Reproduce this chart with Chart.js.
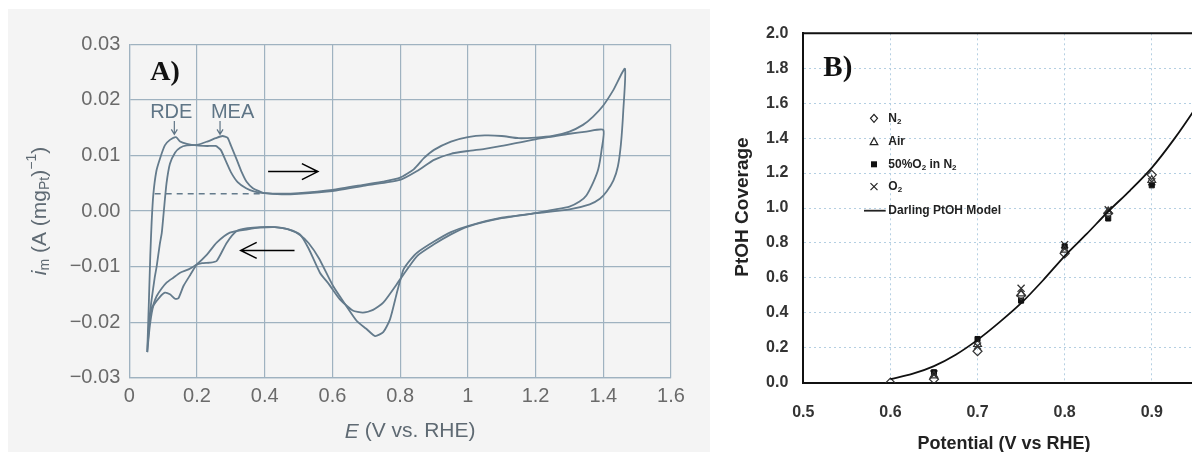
<!DOCTYPE html>
<html>
<head>
<meta charset="utf-8">
<script src="https://cdn.jsdelivr.net/npm/chart.js@4.4.1/dist/chart.umd.min.js"></script>
<style>
  body { margin: 0; width: 1192px; height: 452px; background: #fff; position: relative; overflow: hidden; }
  #panelA { position: absolute; left: 8px; top: 9px; background: #f4f4f4; }
  #wrapB { position: absolute; left: 710px; top: 0; width: 482px; height: 452px; overflow: hidden; background: #fff; }
</style>
</head>
<body>
<canvas id="panelA" width="702" height="443"></canvas>
<div id="wrapB"><canvas id="panelB" width="560" height="452"></canvas></div>
<script>
// ---- panel A: cyclic voltammograms (E vs RHE, mass-specific current) ----
const rdeE = [0.053, 0.058, 0.062, 0.066, 0.071, 0.08, 0.091, 0.105, 0.12, 0.138, 0.15, 0.17, 0.2, 0.23, 0.255, 0.27, 0.285, 0.3, 0.32, 0.345, 0.37, 0.4, 0.45, 0.5, 0.6, 0.7, 0.75, 0.8, 0.84, 0.87, 0.9, 0.95, 1.0, 1.05, 1.1, 1.15, 1.2, 1.25, 1.3, 1.34, 1.37, 1.4, 1.43, 1.464,
  1.459, 1.452, 1.443, 1.43, 1.41, 1.39, 1.36, 1.3, 1.2, 1.1, 1.0, 0.95, 0.9, 0.85, 0.83, 0.81, 0.8, 0.79, 0.77, 0.75, 0.726, 0.7, 0.672, 0.64, 0.602, 0.56, 0.53, 0.504, 0.47, 0.43, 0.386, 0.35, 0.317, 0.288, 0.258, 0.238, 0.215, 0.199, 0.18, 0.16, 0.145, 0.135, 0.12, 0.105, 0.09, 0.071, 0.061, 0.053];
const rdeI = [-0.0254, -0.016, -0.008, -0.002, 0.003, 0.0072, 0.0095, 0.0118, 0.0128, 0.0133, 0.0125, 0.0121, 0.0118, 0.0117, 0.0117, 0.011, 0.009, 0.007, 0.0052, 0.0041, 0.0035, 0.0032, 0.0031, 0.0032, 0.0038, 0.0048, 0.0053, 0.006, 0.0075, 0.0095, 0.011, 0.0125, 0.0133, 0.0136, 0.0135, 0.0131, 0.0132, 0.0135, 0.0143, 0.0155, 0.017, 0.019, 0.0218, 0.0256,
  0.018, 0.012, 0.008, 0.0055, 0.0035, 0.0022, 0.0012, 0.0003, -0.0004, -0.0012, -0.0027, -0.0038, -0.0055, -0.0075, -0.0088, -0.0105, -0.0125, -0.0148, -0.0195, -0.0218, -0.0225, -0.0212, -0.0198, -0.017, -0.0135, -0.0085, -0.0058, -0.0043, -0.0033, -0.0029, -0.0029, -0.0031, -0.0036, -0.0057, -0.009, -0.0093, -0.0094, -0.0097, -0.0115, -0.0135, -0.0157, -0.0158, -0.015, -0.0147, -0.0155, -0.0171, -0.0205, -0.0254];

const meaE = [0.053, 0.06, 0.066, 0.075, 0.081, 0.09, 0.096, 0.102, 0.11, 0.12, 0.135, 0.15, 0.17, 0.2, 0.23, 0.255, 0.275, 0.29, 0.3, 0.317, 0.332, 0.347, 0.365, 0.386, 0.4, 0.45, 0.5, 0.6, 0.7, 0.8, 0.85, 0.9, 0.95, 1.0, 1.05, 1.1, 1.15, 1.2, 1.25, 1.3, 1.35, 1.4,
  1.395, 1.385, 1.37, 1.35, 1.33, 1.3, 1.25, 1.2, 1.1, 1.0, 0.95, 0.9, 0.85, 0.8, 0.75, 0.72, 0.69, 0.66, 0.622, 0.59, 0.563, 0.53, 0.504, 0.47, 0.43, 0.386, 0.35, 0.297, 0.258, 0.23, 0.199, 0.175, 0.15, 0.13, 0.11, 0.095, 0.081, 0.07, 0.061, 0.053];
const meaI = [-0.0254, -0.019, -0.0159, -0.012, -0.0099, -0.006, -0.0039, 0.0, 0.005, 0.0085, 0.0105, 0.0114, 0.0118, 0.0119, 0.0125, 0.0131, 0.0135, 0.0132, 0.0118, 0.0093, 0.007, 0.0052, 0.0041, 0.0035, 0.0032, 0.003, 0.0031, 0.0036, 0.0046, 0.0056, 0.0072, 0.0092, 0.0103, 0.0108, 0.0112, 0.0117, 0.0123, 0.0129, 0.0134, 0.0139, 0.0143, 0.0146,
  0.011, 0.0075, 0.0051, 0.0028, 0.0017, 0.0008, 0.0002, -0.0004, -0.0013, -0.0028, -0.0042, -0.006, -0.0081, -0.0123, -0.0165, -0.0178, -0.0183, -0.0179, -0.0159, -0.0132, -0.0111, -0.0068, -0.0042, -0.0033, -0.0029, -0.003, -0.0033, -0.0039, -0.0057, -0.0078, -0.0096, -0.0105, -0.0111, -0.012, -0.0129, -0.014, -0.0153, -0.017, -0.0189, -0.0254];

// double-layer baseline under the H_upd region
const baselineE = [0.075, 0.39];
const baselineI = [0.0031, 0.0031];

const cvTicksE = [0, 0.2, 0.4, 0.6, 0.8, 1.0, 1.2, 1.4, 1.6];
const cvTickLabelsE = ['0', '0.2', '0.4', '0.6', '0.8', '1', '1.2', '1.4', '1.6'];
const cvTicksI = [-0.03, -0.02, -0.01, 0, 0.01, 0.02, 0.03];
const cvTickLabelsI = ['\u22120.03', '\u22120.02', '\u22120.01', '0.00', '0.01', '0.02', '0.03'];

// ---- panel B: PtOH coverage vs potential ----
const potentials = [0.6, 0.65, 0.7, 0.75, 0.8, 0.85, 0.9];
const coverageN2 = [0.0, 0.02, 0.18, 0.50, 0.74, 0.97, 1.19];
const coverageAir = [null, 0.04, 0.22, 0.51, 0.76, 0.98, 1.16];
const coverage50O2 = [null, 0.06, 0.25, 0.47, 0.78, 0.94, 1.13];
const coverageO2 = [null, 0.05, 0.21, 0.54, 0.79, 0.99, 1.15];
const modelE = [0.6, 0.625, 0.65, 0.675, 0.7, 0.725, 0.75, 0.775, 0.8, 0.825, 0.85, 0.875, 0.9, 0.925, 0.95, 1.0];
const modelCoverage = [0.02, 0.05, 0.095, 0.16, 0.245, 0.345, 0.455, 0.585, 0.725, 0.85, 0.98, 1.1, 1.23, 1.39, 1.57, 1.95];

const ohTicksE = [0.5, 0.6, 0.7, 0.8, 0.9, 1.0];
const ohTickLabelsE = ['0.5', '0.6', '0.7', '0.8', '0.9', '1.0'];
const ohTicksCov = [0, 0.2, 0.4, 0.6, 0.8, 1.0, 1.2, 1.4, 1.6, 1.8, 2.0];
const ohTickLabelsCov = ['0.0', '0.2', '0.4', '0.6', '0.8', '1.0', '1.2', '1.4', '1.6', '1.8', '2.0'];

function toPoints(xs, ys) {
  return xs.map((x, i) => ({ x: x, y: ys[i] })).filter(p => p.y !== null);
}

const SANS = '"Liberation Sans", Arial, Helvetica, sans-serif';
const SERIF = '"Liberation Serif", "Times New Roman", serif';
const gridBlue = '#9fb2c0';
const traceBlue = '#647b8c';

function arrow(ctx, x1, y1, x2, y2, len, half, color, width) {
  const a = Math.atan2(y2 - y1, x2 - x1);
  ctx.save();
  ctx.strokeStyle = color;
  ctx.lineWidth = width;
  ctx.beginPath();
  ctx.moveTo(x1, y1);
  ctx.lineTo(x2, y2);
  ctx.moveTo(x2 - len * Math.cos(a) + half * Math.sin(a), y2 - len * Math.sin(a) - half * Math.cos(a));
  ctx.lineTo(x2, y2);
  ctx.lineTo(x2 - len * Math.cos(a) - half * Math.sin(a), y2 - len * Math.sin(a) + half * Math.cos(a));
  ctx.stroke();
  ctx.restore();
}

// draws a run of [text, font, yShift] pieces starting at x, returns width
function drawRuns(ctx, runs, x, y, measureOnly) {
  let w = 0;
  runs.forEach(([t, f, dy]) => {
    ctx.font = f;
    if (!measureOnly) ctx.fillText(t, x + w, y + dy);
    w += ctx.measureText(t).width;
  });
  return w;
}

const cvExtras = {
  id: 'cvExtras',
  afterDatasetsDraw(chart) {
    const { ctx, scales: { x, y } } = chart;
    // sweep direction arrows
    arrow(ctx, x.getPixelForValue(0.41), y.getPixelForValue(0.0071), x.getPixelForValue(0.557), y.getPixelForValue(0.0071), 16, 8, '#000', 1.5);
    arrow(ctx, x.getPixelForValue(0.488), y.getPixelForValue(-0.0071), x.getPixelForValue(0.329), y.getPixelForValue(-0.0071), 16, 8, '#000', 1.5);

    // RDE / MEA peak markers
    ctx.save();
    ctx.fillStyle = '#5f7586';
    ctx.font = '20px ' + SANS;
    ctx.textAlign = 'center';
    ctx.textBaseline = 'middle';
    ctx.fillText('RDE', x.getPixelForValue(0.124), y.getPixelForValue(0.0178));
    ctx.fillText('MEA', x.getPixelForValue(0.305), y.getPixelForValue(0.0178));
    ctx.restore();
    arrow(ctx, x.getPixelForValue(0.133), y.getPixelForValue(0.0162), x.getPixelForValue(0.133), y.getPixelForValue(0.0138), 5, 3, '#5f7586', 1.2);
    arrow(ctx, x.getPixelForValue(0.268), y.getPixelForValue(0.0162), x.getPixelForValue(0.268), y.getPixelForValue(0.0138), 5, 3, '#5f7586', 1.2);
  },
  afterDraw(chart) {
    const { ctx, chartArea } = chart;
    ctx.save();
    // panel letter
    ctx.fillStyle = '#111';
    ctx.font = 'bold 28px ' + SERIF;
    ctx.textBaseline = 'alphabetic';
    ctx.fillText('A)', chartArea.left + 21, chartArea.top + 36);

    ctx.fillStyle = '#5f6a73';
    ctx.textBaseline = 'middle';
    // x title: E (V vs. RHE)
    const xRuns = [['E', 'italic 21px ' + SANS, 0], [' (V vs. RHE)', '21px ' + SANS, 0]];
    const xw = drawRuns(ctx, xRuns, 0, 0, true);
    drawRuns(ctx, xRuns, (chartArea.left + chartArea.right) / 2 - xw / 2 + 10, chartArea.bottom + 54, false);

    // y title: i_m (A (mg_Pt)^-1)
    const yRuns = [
      ['i', 'italic 21px ' + SANS, 0], ['m', '14px ' + SANS, 5],
      [' (A (mg', '21px ' + SANS, 0], ['Pt', '14px ' + SANS, 5],
      [')', '21px ' + SANS, 0], ['\u22121', '14px ' + SANS, -8], [')', '21px ' + SANS, 0]
    ];
    const yw = drawRuns(ctx, yRuns, 0, 0, true);
    ctx.translate(32, y_center(chart));
    ctx.rotate(-Math.PI / 2);
    drawRuns(ctx, yRuns, -yw / 2, 0, false);
    ctx.restore();
  }
};

function y_center(chart) {
  return chart.scales.y.getPixelForValue(0);
}

new Chart(document.getElementById('panelA'), {
  type: 'scatter',
  data: {
    datasets: [
      { label: 'RDE', data: toPoints(rdeE, rdeI), showLine: true, borderColor: traceBlue, borderWidth: 1.8, pointRadius: 0, tension: 0.2 },
      { label: 'MEA', data: toPoints(meaE, meaI), showLine: true, borderColor: traceBlue, borderWidth: 1.8, pointRadius: 0, tension: 0.2 },
      { label: 'baseline', data: toPoints(baselineE, baselineI), showLine: true, borderColor: traceBlue, borderWidth: 1.6, borderDash: [6, 5], pointRadius: 0 }
    ]
  },
  options: {
    responsive: false,
    animation: false,
    layout: { padding: { top: 35.3, right: 39, left: 0, bottom: 0 } },
    plugins: { legend: { display: false }, tooltip: { enabled: false } },
    scales: {
      x: {
        type: 'linear', min: 0, max: 1.6,
        afterBuildTicks: s => { s.ticks = cvTicksE.map(v => ({ value: v })); },
        afterFit: s => { s.height = 74.3; },
        ticks: { padding: 7, color: '#6a6a6a', font: { family: SANS, size: 20 }, callback: (v, i) => cvTickLabelsE[i] },
        grid: { color: gridBlue, lineWidth: 1.2, drawTicks: false },
        border: { color: gridBlue, width: 1.2 }
      },
      y: {
        type: 'linear', min: -0.03, max: 0.03,
        afterBuildTicks: s => { s.ticks = cvTicksI.map(v => ({ value: v })); },
        afterFit: s => { s.width = 121.3; },
        ticks: { padding: 9, color: '#6a6a6a', font: { family: SANS, size: 20 }, callback: (v, i) => cvTickLabelsI[i] },
        grid: { color: gridBlue, lineWidth: 1.2, drawTicks: false },
        border: { color: gridBlue, width: 1.2 }
      }
    }
  },
  plugins: [cvExtras]
});

// ---- panel B ----
const legendRows = [
  { style: 'diamond', text: [['N', 0], ['2', 1]] },
  { style: 'triangle', text: [['Air', 0]] },
  { style: 'square', text: [['50%O', 0], ['2', 1], [' in N', 0], ['2', 1]] },
  { style: 'cross', text: [['O', 0], ['2', 1]] },
  { style: 'line', text: [['Darling PtOH Model', 0]] }
];

function marker(ctx, style, cx, cy) {
  ctx.save();
  ctx.strokeStyle = '#222';
  ctx.fillStyle = '#111';
  ctx.lineWidth = 1.2;
  ctx.beginPath();
  if (style === 'diamond') {
    ctx.moveTo(cx, cy - 4); ctx.lineTo(cx + 3.5, cy); ctx.lineTo(cx, cy + 4); ctx.lineTo(cx - 3.5, cy); ctx.closePath(); ctx.stroke();
  } else if (style === 'triangle') {
    ctx.moveTo(cx, cy - 4); ctx.lineTo(cx + 3.8, cy + 3); ctx.lineTo(cx - 3.8, cy + 3); ctx.closePath(); ctx.stroke();
  } else if (style === 'square') {
    ctx.fillRect(cx - 3, cy - 3, 6, 6);
  } else if (style === 'cross') {
    ctx.moveTo(cx - 3.5, cy - 3.5); ctx.lineTo(cx + 3.5, cy + 3.5); ctx.moveTo(cx + 3.5, cy - 3.5); ctx.lineTo(cx - 3.5, cy + 3.5); ctx.stroke();
  } else {
    ctx.lineWidth = 1.8;
    ctx.moveTo(cx - 10, cy); ctx.lineTo(cx + 11.7, cy); ctx.stroke();
  }
  ctx.restore();
}

const ohExtras = {
  id: 'ohExtras',
  afterDraw(chart) {
    const { ctx, chartArea } = chart;
    ctx.save();
    // frame: top and right edges
    ctx.strokeStyle = '#111';
    ctx.lineWidth = 2;
    ctx.beginPath();
    ctx.moveTo(chartArea.left, chartArea.top);
    ctx.lineTo(chartArea.right, chartArea.top);
    ctx.lineTo(chartArea.right, chartArea.bottom);
    ctx.stroke();

    // panel letter
    ctx.fillStyle = '#111';
    ctx.font = 'bold 29px ' + SERIF;
    ctx.textBaseline = 'alphabetic';
    ctx.fillText('B)', chartArea.left + 20, chartArea.top + 43);

    // legend
    ctx.textBaseline = 'middle';
    ctx.fillStyle = '#222';
    const rowY = [118.3, 141.7, 164.3, 186.7, 210.7];
    legendRows.forEach((row, k) => {
      const cy = rowY[k];
      marker(ctx, row.style, row.style === 'line' ? 164 : 164, cy);
      let tx = 178.3;
      row.text.forEach(([t, sub]) => {
        ctx.font = sub ? 'bold 8px ' + SANS : 'bold 12px ' + SANS;
        ctx.fillText(t, tx, cy + (sub ? 3 : 0));
        tx += ctx.measureText(t).width;
      });
    });

    // axis titles
    ctx.fillStyle = '#222';
    ctx.textAlign = 'center';
    ctx.font = 'bold 18px ' + SANS;
    ctx.fillText('Potential (V vs RHE)', 294, 444);
    ctx.translate(33, 207);
    ctx.rotate(-Math.PI / 2);
    ctx.font = 'bold 19px ' + SANS;
    ctx.fillText('PtOH Coverage', 0, 0);
    ctx.restore();
  }
};

new Chart(document.getElementById('panelB'), {
  type: 'scatter',
  data: {
    datasets: [
      { label: 'Darling PtOH Model', data: toPoints(modelE, modelCoverage), showLine: true, borderColor: '#111', borderWidth: 1.8, pointRadius: 0, tension: 0.3 },
      { label: 'N2', data: toPoints(potentials, coverageN2), pointStyle: 'rectRot', pointRadius: 4.5, borderColor: '#333', backgroundColor: 'rgba(255,255,255,0)', borderWidth: 1.2 },
      { label: 'Air', data: toPoints(potentials, coverageAir), pointStyle: 'triangle', pointRadius: 4.5, borderColor: '#333', backgroundColor: 'rgba(255,255,255,0)', borderWidth: 1.2 },
      { label: '50%O2 in N2', data: toPoints(potentials, coverage50O2), pointStyle: 'rect', pointRadius: 3.6, borderColor: '#111', backgroundColor: '#111', borderWidth: 1 },
      { label: 'O2', data: toPoints(potentials, coverageO2), pointStyle: 'crossRot', pointRadius: 5, borderColor: '#333', borderWidth: 1.3 }
    ]
  },
  options: {
    responsive: false,
    animation: false,
    layout: { padding: { top: 33.3, right: 21.7, left: 0, bottom: 0 } },
    plugins: { legend: { display: false }, tooltip: { enabled: false } },
    scales: {
      x: {
        type: 'linear', min: 0.5, max: 1.0,
        afterBuildTicks: s => { s.ticks = ohTicksE.map(v => ({ value: v })); },
        afterFit: s => { s.height = 69.3; },
        ticks: { padding: 20, color: '#333', font: { family: SANS, size: 16, weight: 'bold' }, callback: (v, i) => ohTickLabelsE[i] },
        grid: { color: '#b4cfe2', lineWidth: 1, drawTicks: false },
        border: { color: '#111', width: 2, dash: [2, 3] }
      },
      y: {
        type: 'linear', min: 0, max: 2.0,
        afterBuildTicks: s => { s.ticks = ohTicksCov.map(v => ({ value: v })); },
        afterFit: s => { s.width = 93.3; },
        ticks: { padding: 15, color: '#333', font: { family: SANS, size: 16, weight: 'bold' }, callback: (v, i) => ohTickLabelsCov[i] },
        grid: { color: '#b4cfe2', lineWidth: 1, drawTicks: false },
        border: { color: '#111', width: 2, dash: [2, 3] }
      }
    }
  },
  plugins: [ohExtras]
});
</script>
</body>
</html>
